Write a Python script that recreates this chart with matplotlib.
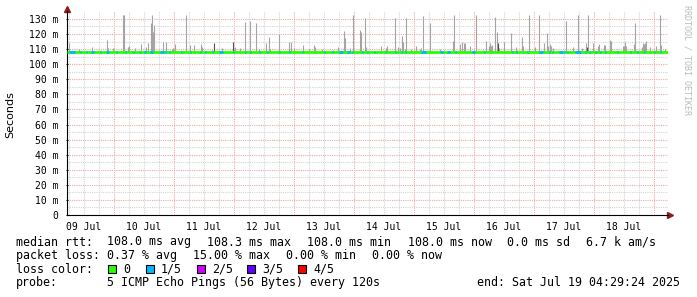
import matplotlib
matplotlib.use("Agg")
import matplotlib.pyplot as plt
from matplotlib.patches import Rectangle

# hours since 09 Jul 00:00, rtt in ms
spike_hours = [6.1, 10.1, 15.3, 21.3, 21.7, 23.7, 27.5, 27.9, 29.5, 29.9, 32.5, 34.9, 36.7, 37.7,
               38.8, 39.1, 39.5, 39.9, 40.1, 43.5, 44.7, 47.3, 47.7, 48.5, 52.8, 54.4, 56.1, 58.9,
               59.3, 63.3, 67.1, 72.4, 74.5, 76.3, 78.5, 80.7, 82.1, 84.8, 86.0, 86.3, 90.0, 94.1,
               94.7, 96.1, 99.7, 102.0, 104.1, 104.5, 107.3, 111.5, 113.5, 116.1, 116.5, 118.5,
               119.5, 122.5, 122.9, 124.5, 124.9, 130.9, 132.9, 133.3, 136.5, 137.7, 138.5, 139.3,
               139.7, 140.5, 140.9, 142.9, 144.9, 146.5, 146.9, 147.7, 150.5, 154.5, 159.7, 160.1,
               162.5, 163.3, 164.1, 164.5, 166.5, 168.9, 171.7, 172.9, 174.1, 174.5, 174.9, 175.3,
               176.5, 177.3, 178.1, 180.1, 182.9, 184.9, 185.3, 187.3, 187.7, 190.1, 192.5, 194.1,
               196.1, 197.3, 197.7, 198.5, 198.9, 199.7, 204.9, 207.7, 209.7, 211.3, 212.9, 213.7,
               215.7, 217.7, 218.1, 220.1, 220.5, 222.5, 222.9, 227.7, 228.1, 228.5, 228.9, 232.1,
               232.5, 235.3, 235.7, 236.1, 236.5, 236.9, 238.5, 240.9, 242.5, 242.9, 244.5]
spike_ms = [113.8, 109.8, 111.6, 116.0, 110.5, 110.5, 132.6, 132.6, 111.6, 112.3, 110.5, 113.4, 111.6, 113.8,
            127.5, 132.6, 121.6, 126.0, 123.8, 114.9, 114.9, 109.8, 110.5, 113.2, 132.6, 112.7, 112.7, 113.2,
            111.6, 109.4, 110.5, 111.6, 110.5, 128.2, 128.6, 127.5, 109.8, 113.8, 118.2, 109.8, 119.8, 114.9,
            114.9, 110.5, 112.7, 109.8, 112.7, 111.6, 109.8, 109.4, 111.6, 122.0, 117.6, 110.5,
            132.6, 122.7, 121.3, 130.4, 111.6, 112.1, 110.5, 112.1, 130.4, 111.6, 110.5, 118.7,
            114.9, 109.8, 130.4, 109.8, 112.1, 109.8, 110.5, 131.9, 127.1, 109.8, 115.4, 132.6,
            113.4, 114.7, 114.3, 114.3, 112.1, 132.6, 109.4, 115.4, 112.1, 113.8, 112.3, 112.7,
            131.3, 121.6, 110.5, 114.7, 121.0, 111.6, 109.4, 118.2, 112.1, 132.6, 111.6, 132.6,
            114.3, 121.0, 112.1, 113.2, 112.1, 110.5, 128.8, 111.6, 132.6, 110.5, 114.3, 132.6,
            114.3, 112.1, 113.2, 112.7, 112.7, 116.0, 115.6, 112.3, 112.3, 114.7, 112.1, 113.4,
            127.5, 111.6, 114.3, 113.4, 113.8, 115.4, 111.6, 112.1, 132.6, 112.7, 109.8]
dark_hours = [64.0, 71.7, 177.7, 213.3]
dark_ms = [113.8, 114.9, 113.8, 111.6]

median_ms = 108.0

# samples with 1/5 loss (start, end in hours)
loss_start = [6.0, 10.4, 12.8, 14.8, 18.4, 20.8, 24.8, 28.4, 31.6, 34.0, 36.0, 38.4, 42.4, 44.4, 46.0,
              50.8, 54.4, 58.4, 60.4, 63.2, 66.0, 71.6, 76.4, 78.4, 82.0, 85.2, 90.0, 94.0, 99.2,
              108.0, 111.2, 114.0, 117.2, 119.2, 123.2, 125.2, 128.0, 132.4, 136.4, 138.8, 140.4,
              146.8, 154.4, 157.2, 160.4, 167.2, 172.0, 183.2, 184.8, 189.2, 194.0, 198.0, 199.2,
              202.0, 204.0, 205.2, 208.4, 212.4, 214.0, 216.4, 218.4, 220.4, 225.2, 230.4, 233.2,
              236.0, 240.0, 242.4]
loss_end = [8.4, 10.8, 13.2, 16.0, 18.8, 22.0, 25.2, 28.8, 32.0, 34.4, 36.8, 39.6, 44.0, 44.8, 46.4,
            51.2, 54.8, 58.8, 60.8, 63.6, 67.6, 72.0, 76.8, 78.8, 82.4, 85.6, 90.4, 94.4, 99.6,
            108.4, 111.6, 115.6, 118.4, 119.6, 123.6, 125.6, 128.4, 132.8, 136.8, 139.2, 140.8,
            148.8, 155.6, 158.4, 160.8, 168.4, 172.4, 183.6, 185.2, 189.6, 195.6, 198.4, 199.6,
            203.6, 204.4, 205.6, 210.8, 212.8, 214.4, 216.8, 218.8, 220.8, 225.6, 230.8, 233.6,
            236.4, 240.4, 242.8]

day_labels = ["09 Jul", "10 Jul", "11 Jul", "12 Jul", "13 Jul", "14 Jul", "15 Jul", "16 Jul", "17 Jul", "18 Jul"]
y_ticks = [0, 10, 20, 30, 40, 50, 60, 70, 80, 90, 100, 110, 120, 130]

loss_labels = ["0", "1/5", "2/5", "3/5", "4/5"]
loss_colors = ["#26ff00", "#00b8ff", "#d400ff", "#6200ff", "#ff0000"]

W, H = 697, 297
MONO = "DejaVu Sans Mono"
fig = plt.figure(figsize=(W / 100, H / 100), dpi=100)
fig.patch.set_facecolor("white")

ax = fig.add_axes([67 / W, 1 - 215 / H, 601 / W, (215 - 11.4) / H])
ax.set_xlim(5.2, 245.6)
ax.set_ylim(0, 135)

# grid
for h in range(6, 246, 6):
    c = "#f0a8a8" if h % 24 == 0 else "#d4d4d4"
    ax.axvline(h, color=c, lw=0.8, ls=(0, (1, 1)), zorder=0)
for v in range(5, 135, 5):
    c = "#f0a8a8" if v % 10 == 0 else "#d4d4d4"
    ax.axhline(v, color=c, lw=0.8, ls=(0, (1, 1)), zorder=0)

# smoke
ax.vlines(spike_hours, median_ms, spike_ms, color="#a4a4a4", lw=0.8, zorder=2)
ax.vlines(dark_hours, median_ms, dark_ms, color="#505050", lw=0.8, zorder=2)

# median line coloured by loss
ax.hlines(median_ms, 5.2, 245.6, color=loss_colors[0], lw=2.0, zorder=3, capstyle="butt")
ax.hlines([median_ms] * len(loss_start), loss_start, loss_end, color=loss_colors[1], lw=2.0,
          zorder=4, capstyle="butt")

for s in ["top", "right"]:
    ax.spines[s].set_visible(False)
ax.spines["left"].set_color("black")
ax.spines["bottom"].set_color("black")
ax.spines["left"].set_linewidth(0.8)
ax.spines["bottom"].set_linewidth(0.8)
ax.plot([0], [1.01], marker="^", ms=4.5, color="#8b1c1c", transform=ax.transAxes, clip_on=False)
ax.plot([1.004], [0], marker=">", ms=4.5, color="#8b1c1c", transform=ax.transAxes, clip_on=False)

ax.set_yticks(y_ticks)
ax.set_yticklabels(["0" if v == 0 else "%d m" % v for v in y_ticks], family=MONO, fontsize=7)
ax.set_xticks([12 + 24 * i for i in range(len(day_labels))])
ax.set_xticklabels(day_labels, family=MONO, fontsize=7)
ax.tick_params(axis="y", length=2, direction="inout", pad=5)
ax.tick_params(axis="x", length=0, pad=5)

fig.text(10 / W, 1 - 115 / H, "Seconds", rotation=90, ha="center", va="center", fontsize=8,
         family="DejaVu Sans")
fig.text(687 / W, 1 - 60 / H, "RRDTOOL / TOBI OETIKER", rotation=270, ha="center", va="center",
         fontsize=6, family=MONO, color="#bbbbbb")

# legend lines
fs = 8.4
def put(x, y, s, ha="left"):
    fig.text(x / W, 1 - y / H, s, ha=ha, va="baseline", fontsize=fs, family=MONO)

put(16, 245.5, "median rtt:")
for x, s in zip([107, 207, 307, 408, 507, 586],
                ["108.0 ms avg", "108.3 ms max", "108.0 ms min", "108.0 ms now", "0.0 ms sd", "6.7 k am/s"]):
    put(x, 245.5, s)
put(16, 259, "packet loss:")
for x, s in zip([107, 193, 286, 372], ["0.37 % avg", "15.00 % max", "0.00 % min", "0.00 % now"]):
    put(x, 259, s)
put(16, 272.7, "loss color:")
for x, lab, c in zip([108, 146, 197, 247, 298], loss_labels, loss_colors):
    fig.add_artist(Rectangle((x / W, 1 - 273 / H), 8 / W, 8 / H, transform=fig.transFigure,
                             facecolor=c, edgecolor="black", lw=0.8))
    put(x + 15, 272.7, lab)
put(16, 286.3, "probe:")
put(107, 286.3, "5 ICMP Echo Pings (56 Bytes) every 120s")
put(680, 286.3, "end: Sat Jul 19 04:29:24 2025", ha="right")

fig.savefig("out.png", dpi=100)
